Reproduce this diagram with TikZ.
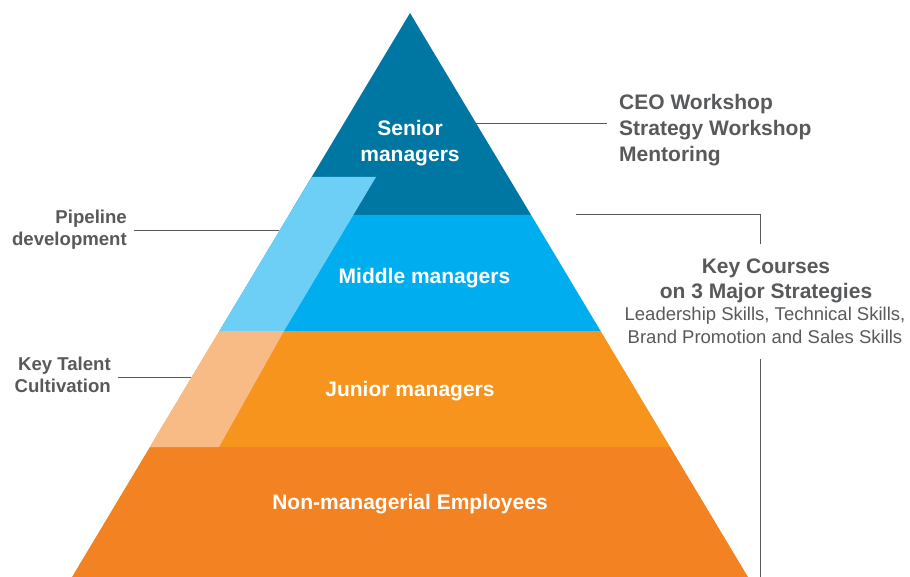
\documentclass[tikz,border=0pt]{standalone}
\usepackage{fontspec}
\setmainfont{Liberation Sans}
\usepackage{tikz}
\usepackage{xcolor}
\definecolor{seniorblue}{RGB}{0,119,163}
\definecolor{middleblue}{RGB}{0,174,239}
\definecolor{pipeblue}{RGB}{109,207,246}
\definecolor{juniororange}{RGB}{247,148,30}
\definecolor{staffred}{RGB}{243,130,34}
\definecolor{talentorange}{RGB}{249,187,133}
\definecolor{textgray}{RGB}{88,89,91}

\begin{document}
\begin{tikzpicture}[x=1pt,y=-1pt,
  every node/.style={font=\fontsize{21}{26}\selectfont\bfseries,inner sep=0pt},
  bandlabel/.style={text=white,align=center,anchor=base},
  sidelabel/.style={text=textgray,anchor=base},
  connector/.style={draw=textgray,line width=1pt}]
\useasboundingbox (0,0) rectangle (910,577);
\fill[seniorblue] (410,13) -- (531.1,215) -- (288.9,215) -- cycle;
\fill[middleblue] (288.9,215) -- (531.1,215) -- (600.6,331) -- (219.4,331) -- cycle;
\fill[juniororange] (219.4,331) -- (600.6,331) -- (670.1,447) -- (149.9,447) -- cycle;
\fill[staffred] (149.9,447) -- (670.1,447) -- (748,577) -- (72,577) -- cycle;
\fill[pipeblue] (311.7,177) -- (376,177) -- (284,331) -- (219.4,331) -- cycle;
\fill[talentorange] (219.4,331) -- (284,331) -- (219,447) -- (149.9,447) -- cycle;
\node[bandlabel] (senior) at (410,161.5) {Senior\\managers};
\node[bandlabel] (middle) at (424.5,283.5) {Middle managers};
\node[bandlabel] (junior) at (410,396.5) {Junior managers};
\node[bandlabel] (staff) at (410,509.5) {Non-managerial Employees};
\node[sidelabel,align=left,anchor=base west] (ceo) at (619,161.5) {CEO Workshop\\Strategy Workshop\\Mentoring};
\node[sidelabel,align=center,font=\fontsize{21}{25}\selectfont\bfseries] (courses) at (766,298.5) {Key Courses\\on 3 Major Strategies};
\node[sidelabel,align=center,font=\fontsize{18.5}{23}\selectfont] (skills) at (765,343.6) {Leadership Skills, Technical Skills,\\Brand Promotion and Sales Skills};
\node[sidelabel,align=right,anchor=base east,font=\fontsize{18.6}{22}\selectfont\bfseries] (pipeline) at (127,245.7) {Pipeline\\development};
\node[sidelabel,align=right,anchor=base east,font=\fontsize{18.6}{22}\selectfont\bfseries] (talent) at (111,392.7) {Key Talent\\Cultivation};
\coordinate (senior-tip) at (463,124);
\coordinate (pipe-tip) at (279,231);
\coordinate (talent-tip) at (191,377);
\coordinate (courses-tip) at (576,215);
\coordinate (courses-top) at (760,244);
\coordinate (courses-foot) at (760,359);
\draw[connector] (senior-tip) -- ([xshift=-12pt]senior-tip -| ceo.west);
\draw[connector] ([xshift=7pt]pipeline.east |- pipe-tip) -- (pipe-tip);
\draw[connector] ([xshift=7pt]talent.east |- talent-tip) -- (talent-tip);
\draw[connector] (courses-tip) -| (courses-top);
\draw[connector] (courses-foot) -- (courses-foot |- 0,577);
\end{tikzpicture}
\end{document}
